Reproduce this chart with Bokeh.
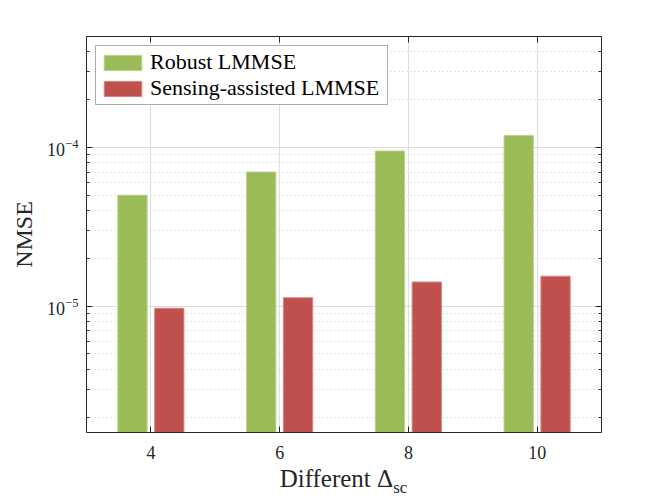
from bokeh.plotting import figure
from bokeh.layouts import column
from bokeh.models import (LogAxis, LinearAxis, FixedTicker, Legend, LegendItem, Div,
                          Range1d, ColumnDataSource, CustomJSTickFormatter)
from bokeh.transform import dodge
from bokeh.embed import file_html
from bokeh.resources import INLINE

# ---- data ----
categories = [4, 6, 8, 10]
robust_lmmse = [5.0e-5, 7.0e-5, 9.5e-5, 1.19e-4]
sensing_lmmse = [9.7e-6, 1.13e-5, 1.42e-5, 1.545e-5]
series_names = ["Robust LMMSE", "Sensing-assisted LMMSE"]
series_colors = ["#9BBB59", "#C0504D"]
series_edges = ["#B8D38A", "#D8857F"]
x_ticks = [4, 6, 8, 10]
y_major_ticks = [1e-5, 1e-4]
y_minor_ticks = [m * 10.0 ** e for e in (-6, -5, -4) for m in range(2, 10)]
x_label = "Different Δ"
x_label_sub = "sc"
y_label = "NMSE"

FONT = "Liberation Serif"
AX = "#262626"

src = ColumnDataSource(data=dict(x=categories, robust=robust_lmmse, sensing=sensing_lmmse))

p = figure(width=664, height=470, y_axis_type="log",
           x_range=Range1d(3, 11), y_range=Range1d(1.6e-6, 5e-4),
           output_backend="svg", toolbar_location=None,
           min_border_left=86, min_border_right=63, min_border_top=36, min_border_bottom=38)
p.outline_line_color = None
p.background_fill_color = "white"
p.border_fill_color = "white"

bar_w = 0.455
off = 0.286
r1 = p.vbar(x=dodge("x", -off, range=p.x_range), top="robust", bottom=1e-9, width=bar_w,
            source=src, fill_color=series_colors[0], line_color=series_edges[0], line_width=1)
r2 = p.vbar(x=dodge("x", off, range=p.x_range), top="sensing", bottom=1e-9, width=bar_w,
            source=src, fill_color=series_colors[1], line_color=series_edges[1], line_width=1)

yt = FixedTicker(ticks=y_major_ticks, minor_ticks=y_minor_ticks)
xt = FixedTicker(ticks=x_ticks, minor_ticks=[])

def style_axis(ax):
    ax.axis_line_color = AX
    ax.axis_line_width = 1
    ax.major_tick_line_color = AX
    ax.minor_tick_line_color = AX
    ax.major_tick_in = 6
    ax.major_tick_out = 0
    ax.minor_tick_in = 3
    ax.minor_tick_out = 0
    ax.major_label_text_font = FONT
    ax.major_label_text_font_size = "18px"
    ax.major_label_text_color = AX

yax = p.yaxis[0]
yax.ticker = yt
style_axis(yax)
yax.major_label_standoff = 8
yax.axis_label = y_label
yax.axis_label_text_font = FONT
yax.axis_label_text_font_size = "24px"
yax.axis_label_text_font_style = "normal"
yax.axis_label_text_color = AX
yax.axis_label_standoff = 7

xax = p.xaxis[0]
xax.ticker = xt
style_axis(xax)
xax.major_label_standoff = 13

empty = CustomJSTickFormatter(code="return ''")
rax = LogAxis(ticker=yt, formatter=empty)
style_axis(rax)
rax.major_label_standoff = 0
p.add_layout(rax, "right")
tax = LinearAxis(ticker=xt, formatter=empty)
style_axis(tax)
tax.major_label_standoff = 0
p.add_layout(tax, "above")

p.xgrid.ticker = xt
p.xgrid.grid_line_color = "#dddddd"
p.ygrid.ticker = yt
p.ygrid.grid_line_color = "#dddddd"
p.ygrid.minor_grid_line_color = "#c8c8c8"
p.ygrid.minor_grid_line_dash = "1 3"

legend = Legend(items=[LegendItem(label=series_names[0], renderers=[r1]),
                       LegendItem(label=series_names[1], renderers=[r2])],
                location="top_left", margin=9, padding=3, spacing=0,
                glyph_width=47, glyph_height=19, label_standoff=4, label_width=234,
                label_text_font=FONT, label_text_font_size="22px", label_text_color="black",
                border_line_color="#5a5a5a", border_line_width=1,
                background_fill_color="white", background_fill_alpha=1)
p.add_layout(legend)

xtitle = Div(text=f'{x_label}<sub style="font-size:17px">{x_label_sub}</sub>',
             width=664, height=28, margin=0,
             styles={"font-family": FONT, "font-size": "25px", "line-height": "18px",
                     "text-align": "center", "color": AX, "padding-left": "23px",
                     "box-sizing": "border-box", "width": "664px"})

layout = column(p, xtitle, spacing=0)
open("out.html", "w").write(file_html(layout, INLINE))
